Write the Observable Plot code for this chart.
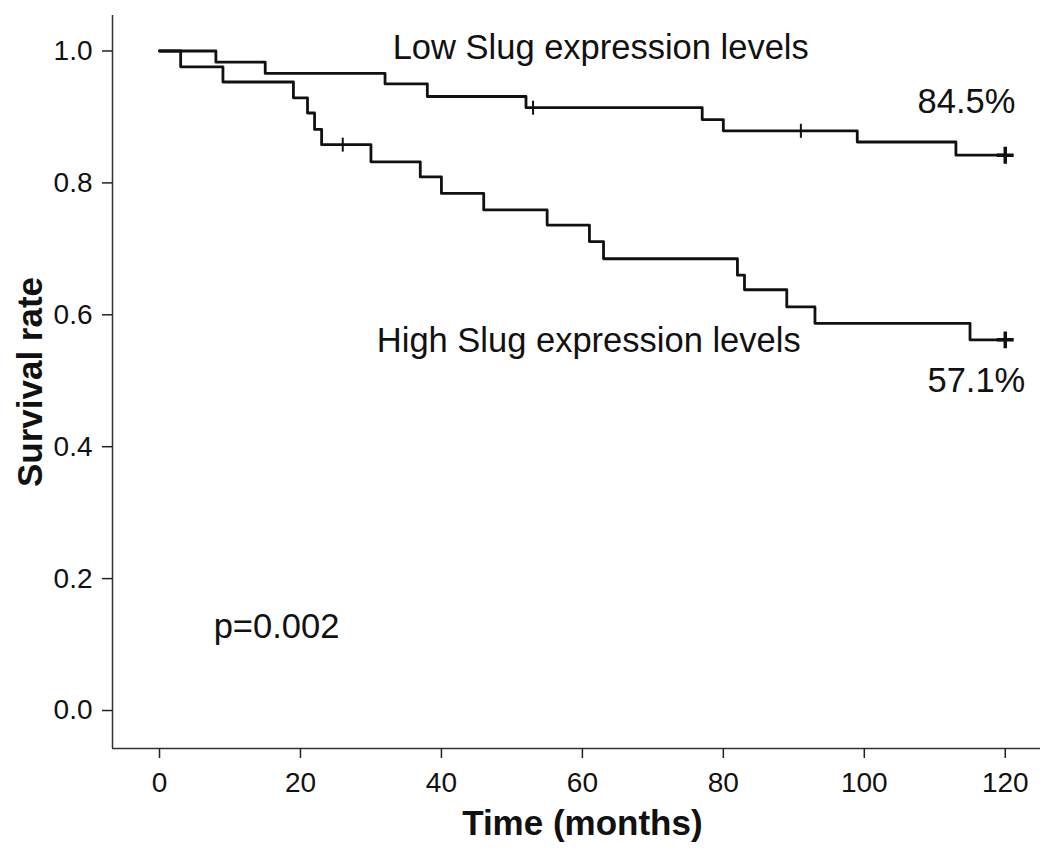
<!DOCTYPE html>
<html>
<head>
<meta charset="utf-8">
<script src="https://cdn.jsdelivr.net/npm/d3@7"></script>
<script src="https://cdn.jsdelivr.net/npm/@observablehq/plot@0.6"></script>
<style>
  body { margin: 0; background: #fff; }
  #chart svg { display: block; }
</style>
</head>
<body>
<div id="chart"></div>
<script>
// Kaplan-Meier steps: time (months) where the level starts, and the level
const lowTimes = [0, 8, 15, 32, 38, 52, 77, 80, 99, 113, 120];
const lowSurv = [1.0, 0.983, 0.966, 0.95, 0.931, 0.914, 0.896, 0.879, 0.862, 0.842, 0.842];
const lowCensorTimes = [53, 91];
const lowCensorSurv = [0.914, 0.879];

const highTimes = [0, 3, 9, 19, 21, 22, 23, 30, 37, 40, 46, 55, 61, 63, 82, 83, 89, 93, 115, 120];
const highSurv = [1.0, 0.976, 0.953, 0.929, 0.906, 0.881, 0.858, 0.832, 0.809, 0.784, 0.759,
  0.736, 0.711, 0.685, 0.66, 0.638, 0.612, 0.587, 0.562, 0.562];
const highCensorTimes = [26];
const highCensorSurv = [0.858];

// last follow-up (the bold "+" at the end of each curve)
const endTimes = [120, 120];
const endSurv = [0.842, 0.562];

const xTicks = [0, 20, 40, 60, 80, 100, 120];
const yTicks = [0, 0.2, 0.4, 0.6, 0.8, 1.0];

const noteText = ["Low Slug expression levels", "84.5%", "High Slug expression levels", "57.1%", "p=0.002"];
const noteX = [62.6, 114.5, 60.9, 115.9, 16.6];
const noteY = [1.004, 0.922, 0.561, 0.5, 0.126];

const X_MIN = -6.67, X_MAX = 125;
const Y_MIN = -0.0576, Y_MAX = 1.0538;

const low = lowTimes.map((t, i) => ({ t, s: lowSurv[i] }));
const high = highTimes.map((t, i) => ({ t, s: highSurv[i] }));
const censored = [
  ...lowCensorTimes.map((t, i) => ({ t, s: lowCensorSurv[i] })),
  ...highCensorTimes.map((t, i) => ({ t, s: highCensorSurv[i] })),
];
const ends = endTimes.map((t, i) => ({ t, s: endSurv[i] }));
const notes = noteText.map((text, i) => ({ text, x: noteX[i], y: noteY[i] }));

// vertical dash used for censoring marks
const vTick = {
  draw(context, size) {
    const r = Math.sqrt(size / Math.PI);
    context.moveTo(0, -r);
    context.lineTo(0, r);
  }
};

const font = "'Liberation Sans', Arial, Helvetica, sans-serif";

const plot = Plot.plot({
  width: 1046,
  height: 868,
  marginLeft: 112,
  marginRight: 6,
  marginTop: 15,
  marginBottom: 120,
  style: { fontFamily: font, color: "#111", background: "#fff" },
  x: { domain: [X_MIN, X_MAX] },
  y: { domain: [Y_MIN, Y_MAX] },
  marks: [
    Plot.ruleX([X_MIN], { stroke: "#333", strokeWidth: 1.5 }),
    Plot.ruleY([Y_MIN], { stroke: "#333", strokeWidth: 1.5 }),
    Plot.axisX({
      ticks: xTicks, tickSize: 10, tickPadding: 14, fontSize: 28,
      label: null, stroke: "#222", strokeWidth: 1.5
    }),
    Plot.axisY({
      ticks: yTicks, tickSize: 10, tickPadding: 10, fontSize: 28,
      tickFormat: d3.format(".1f"), label: null, stroke: "#222", strokeWidth: 1.5
    }),
    Plot.text(["Time (months)"], {
      x: () => 60, frameAnchor: "bottom", dy: 86,
      fontSize: 35, fontWeight: "bold"
    }),
    Plot.text(["Survival rate"], {
      frameAnchor: "left", dx: -82, rotate: -90, textAnchor: "middle",
      fontSize: 35, fontWeight: "bold"
    }),
    Plot.line(low, { x: "t", y: "s", curve: "step-after", stroke: "#111", strokeWidth: 2.8 }),
    Plot.line(high, { x: "t", y: "s", curve: "step-after", stroke: "#111", strokeWidth: 2.8 }),
    Plot.dot(censored, { x: "t", y: "s", symbol: vTick, r: 7, stroke: "#111", strokeWidth: 2 }),
    Plot.dot(ends, { x: "t", y: "s", symbol: "plus", r: 5.5, stroke: "#111", strokeWidth: 3.5 }),
    Plot.text(notes, { x: "x", y: "y", text: "text", fontSize: 34.5, fill: "#111" })
  ]
});

document.getElementById("chart").append(plot);
</script>
</body>
</html>
